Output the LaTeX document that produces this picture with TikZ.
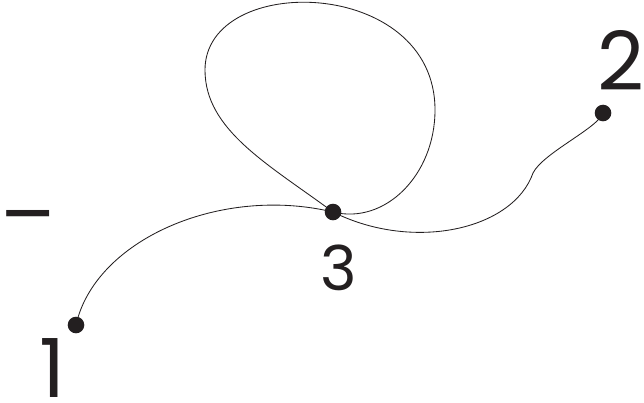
\documentclass[tikz,border=0pt]{standalone}
\usepackage{fontspec}
\setmainfont{Poppins}
\usepackage{tikz}
\definecolor{ink}{RGB}{35,31,32}

\begin{document}
\begin{tikzpicture}[x=0.025cm,y=-0.025cm,
  every node/.style={inner sep=0pt,outer sep=0pt,text=ink},
  vertex/.style={circle,fill=ink,minimum size=0.415cm},
  tag/.style={font=\fontsize{58}{62}\selectfont,anchor=base},
  curve/.style={draw=ink,line width=0.6pt}]
  \useasboundingbox (0,0) rectangle (644,402);
  % points
  \node[vertex] (p1) at (76,325) {};
  \node[vertex] (p2) at (603,113) {};
  \node[vertex] (p3) at (333,212) {};
  % labels
  \node[tag] (l1) at (53,397) {1};
  \node[tag] (l2) at (621,90) {2};
  \node[tag,font=\fontsize{44}{48}\selectfont] (l3) at (339,290) {3};
  \node[tag,anchor=center] (minus) at (28,227) {–};
  % way points of the path
  \coordinate (w) at (205,70);
  \coordinate (e) at (435,110);
  \coordinate (s) at (533,173);
  \draw[curve] (p1.center) .. controls (95,240) and (220,185) .. (p3.center);
  \draw[curve] (p3.center) .. controls (268,164) and (205,130) .. (w)
    .. controls (205,-28) and (435,-24) .. (e)
    .. controls (435,175) and (385,225) .. (p3.center);
  \draw[curve] (p3.center) .. controls (413,252) and (513,230) .. (s)
    .. controls (543,153) and (598,128) .. (p2.center);
\end{tikzpicture}
\end{document}
